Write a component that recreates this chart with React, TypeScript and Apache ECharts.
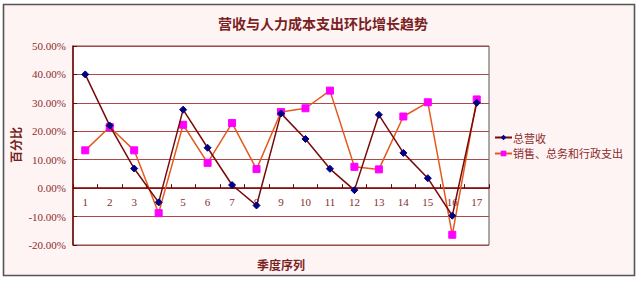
import React, { useEffect, useRef } from "react";
import * as echarts from "echarts";

const categories = ["1","2","3","4","5","6","7","8","9","10","11","12","13","14","15","16","17"];
const revenue = [40.0, 22.0, 6.9, -5.0, 27.6, 14.2, 1.1, -6.1, 26.3, 17.3, 6.8, -0.7, 25.8, 12.4, 3.5, -9.7, 30.0];
const expense = [13.3, 21.5, 13.3, -8.8, 22.3, 8.9, 22.9, 6.7, 26.8, 28.1, 34.3, 7.5, 6.6, 25.2, 30.2, -16.4, 31.2];
const seriesNames = ["总营收", "销售、总务和行政支出"];
const titleText = "营收与人力成本支出环比增长趋势";
const xName = "季度序列";
const yName = "百分比";
const yMin = -20;
const yMax = 50;
const yStep = 10;

const FONT_CJK = "'Noto Sans CJK SC', sans-serif";
const FONT_NUM = "'Liberation Serif', 'DejaVu Serif', serif";
const TXT = "#8B2C2C";

const W = 640;
const H = 282;
const G_TOP = 46;
const G_BOTTOM = 37;
const G_LEFT = 73;
const G_RIGHT = 151;

export default function App() {
  const ref = useRef<HTMLDivElement>(null);
  useEffect(() => {
    document.body.style.margin = "0";
    const chart = echarts.init(ref.current!, null, { renderer: "svg" });
    const gridH = H - G_TOP - G_BOTTOM;
    const zeroOffset = -gridH * (0 - yMin) / (yMax - yMin);
    chart.setOption({
      animation: false,
      backgroundColor: "#ffffff",
      graphic: [
        {
          type: "rect",
          z: -10,
          silent: true,
          shape: { x: 3.5, y: 4.5, width: 631, height: 271 },
          style: { fill: "#FFF4F4", stroke: "#555555", lineWidth: 1.6 },
        },
        {
          type: "text",
          x: 281,
          y: 264,
          style: {
            text: xName,
            fontFamily: FONT_CJK,
            fontSize: 12,
            fontWeight: "bold",
            fill: "#7A1F1F",
            align: "center",
            verticalAlign: "middle",
          },
        },
        {
          type: "text",
          x: 15,
          y: 145,
          rotation: Math.PI / 2,
          style: {
            text: yName,
            fontFamily: FONT_CJK,
            fontSize: 12,
            fontWeight: "bold",
            fill: "#7A1F1F",
            align: "center",
            verticalAlign: "middle",
          },
        },
      ],
      title: {
        text: titleText,
        left: 318,
        textAlign: "center",
        top: 11,
        textStyle: { fontFamily: FONT_CJK, fontSize: 14, fontWeight: "bold", color: "#7A1F1F" },
      },
      legend: {
        orient: "vertical",
        left: 494,
        top: 132,
        padding: 0,
        itemWidth: 17,
        itemHeight: 7,
        itemGap: 5,
        textStyle: { fontFamily: FONT_CJK, fontSize: 11, color: TXT, padding: [0, 0, 0, -4] },
        data: seriesNames,
      },
      grid: {
        left: G_LEFT,
        right: G_RIGHT,
        top: G_TOP,
        bottom: G_BOTTOM,
        outerBoundsMode: "none",
        containLabel: false,
        show: true,
        backgroundColor: "#ffffff",
        borderColor: "#555555",
        borderWidth: 1,
      },
      xAxis: {
        type: "category",
        data: categories,
        boundaryGap: true,
        position: "bottom",
        offset: zeroOffset,
        axisLine: { onZero: false, lineStyle: { color: "#7A0000", width: 1.5 } },
        axisTick: { show: true, inside: true, length: 4, lineStyle: { color: "#7A0000" } },
        axisLabel: { fontFamily: FONT_NUM, fontSize: 11, color: TXT, margin: 8 },
        splitLine: { show: false },
      },
      yAxis: {
        type: "value",
        min: yMin,
        max: yMax,
        interval: yStep,
        axisLine: { show: true, lineStyle: { color: "#7A0000", width: 1.5 } },
        axisTick: { show: true, inside: true, length: 4, lineStyle: { color: "#7A0000" } },
        axisLabel: {
          fontFamily: FONT_NUM,
          fontSize: 11,
          color: TXT,
          margin: 7,
          formatter: (v: number) => v.toFixed(2) + "%",
        },
        splitLine: { show: true, lineStyle: { color: "#B04848", width: 1 } },
      },
      series: [
        {
          name: seriesNames[0],
          type: "line",
          data: revenue,
          symbol: "diamond",
          symbolSize: 7,
          z: 3,
          lineStyle: { color: "#7A0A0A", width: 1.5 },
          itemStyle: { color: "#000080", borderColor: "#000080" },
        },
        {
          name: seriesNames[1],
          type: "line",
          data: expense,
          symbol: "rect",
          symbolSize: 7,
          z: 2,
          lineStyle: { color: "#E55A1C", width: 1.5 },
          itemStyle: { color: "#FF00FF", borderColor: "#FF00FF" },
        },
      ],
    });
    return () => chart.dispose();
  }, []);
  return <div ref={ref} style={{ width: W, height: H }} />;
}
